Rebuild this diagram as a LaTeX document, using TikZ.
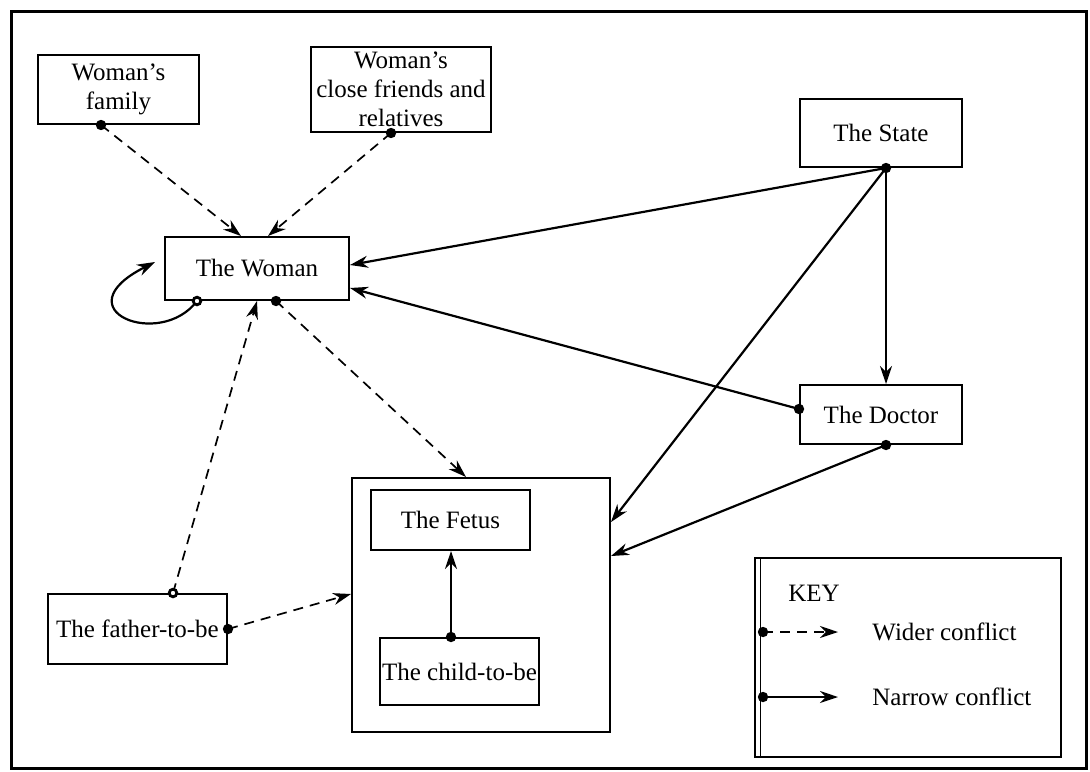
\documentclass[tikz,border=0pt]{standalone}
\usepackage{fontspec}
\setmainfont{Liberation Serif}
\usetikzlibrary{arrows.meta,calc}
\tikzset{
  box/.style={draw, line width=1pt, inner sep=0pt, align=center, font=\fontsize{12.5}{14.5}\selectfont},
  wide/.style={line width=0.85pt, dash pattern=on 5pt off 3.5pt, -{Stealth[length=9pt,width=6pt]}},
  narrow/.style={line width=1.1pt, -{Stealth[length=9pt,width=6pt]}},
  lbl/.style={font=\fontsize{12.5}{14.5}\selectfont, inner sep=0pt}
}
\begin{document}
\begin{tikzpicture}[x=0.5pt,y=-0.5pt]
\useasboundingbox (0,0) rectangle (1090,771);
\draw[line width=1.5pt] (11,11) rectangle (1086,768);
% nodes
\node[box, minimum width=80.5pt, minimum height=34.5pt] (fam) at (118.5,89.5) {Woman's\\family};
\node[box, minimum width=90pt, minimum height=42.5pt] (fr) at (401,89.5) {Woman's\\close friends and\\relatives};
\node[box, minimum width=81pt, minimum height=34pt] (state) at (881,133) {The State};
\node[box, minimum width=92pt, minimum height=31.5pt] (woman) at (257,268.5) {The Woman};
\node[box, minimum width=81pt, minimum height=29.5pt] (doctor) at (881,414.5) {The Doctor};
\node[box, minimum width=129pt, minimum height=127pt] (womb) at (481,605) {};
\node[box, minimum width=79.5pt, minimum height=30pt] (fetus) at (450.5,520) {The Fetus};
\node[box, minimum width=79.5pt, minimum height=33.5pt] (child) at (459.5,671.5) {The child-to-be};
\node[box, minimum width=89.5pt, minimum height=35pt] (father) at (137.5,629) {The father-to-be};
\node[box, minimum width=153pt, minimum height=99.5pt] (key) at (908,657.5) {};
\draw[line width=0.5pt] ([xshift=3pt]key.north west) -- ([xshift=3pt]key.south west);
% dot coordinates
\coordinate (famd) at ([xshift=-8.75pt]fam.south);
\coordinate (frd) at ([xshift=-5pt]fr.south);
\coordinate (stated) at ([xshift=2.5pt]state.south);
\coordinate (wd1) at ([xshift=-30pt]woman.south);
\coordinate (wd2) at ([xshift=9.5pt]woman.south);
\coordinate (dd1) at ([yshift=2.75pt]doctor.west);
\coordinate (dd2) at ([xshift=2.5pt]doctor.south);
\coordinate (fd1) at ([xshift=17.75pt]father.north);
\coordinate (fd2) at (father.east);
\coordinate (cd) at ([xshift=-4.25pt]child.north);
\coordinate (loopend) at (155,262);
% wider conflicts
\draw[wide] (famd) -- ([xshift=-8pt]woman.north);
\draw[wide] (frd) -- ([xshift=5.5pt]woman.north);
\draw[wide] (wd2) -- ([xshift=-7.5pt]womb.north);
\draw[wide] (fd1) -- (woman.south);
\draw[wide] (fd2) -- ([yshift=5.5pt]womb.west);
% narrow conflicts
\draw[narrow] (stated) -- ([yshift=1.75pt]woman.east);
\draw[narrow] (stated) -- ([xshift=2.5pt]doctor.north);
\draw[narrow] (stated) -- ([yshift=41.5pt]womb.east);
\draw[narrow] (dd1) -- ([yshift=-9.75pt]woman.east);
\draw[narrow] (dd2) -- ([yshift=24.5pt]womb.east);
\draw[narrow] (cd) -- (cd |- fetus.south);
\draw[narrow] (wd1) .. controls (160,350) and (60,310) .. (loopend);
% dots
\foreach \p in {famd,frd,stated,wd2,dd1,dd2,fd2,cd} \fill (\p) circle (2.6pt);
\foreach \p in {wd1,fd1} \filldraw[fill=white, line width=1.4pt] (\p) circle (1.9pt);
% key
\node[lbl, anchor=west] (keyt) at (788,593) {KEY};
\coordinate (k1a) at (763,632);
\coordinate (k1b) at (838,632);
\coordinate (k2a) at (763,697);
\coordinate (k2b) at (838,697);
\draw[wide] (k1a) -- (k1b);
\draw[narrow] (k2a) -- (k2b);
\fill (k1a) circle (2.6pt);
\fill (k2a) circle (2.6pt);
\node[lbl, anchor=west] (kw) at (872,632) {Wider conflict};
\node[lbl, anchor=west] (kn) at (872,697) {Narrow conflict};
\end{tikzpicture}
\end{document}
